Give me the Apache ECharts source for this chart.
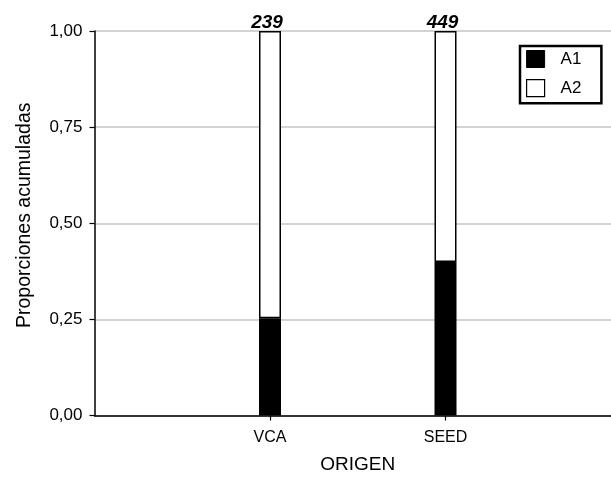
<!DOCTYPE html>
<html>
<head>
<meta charset="utf-8">
<script src="https://cdn.jsdelivr.net/npm/echarts@6/dist/echarts.min.js"></script>
<style>
html,body{margin:0;padding:0;background:#fff;}
#main{width:611px;height:477px;}
</style>
</head>
<body>
<div id="main"></div>
<script>
var categories = ['', 'VCA', 'SEED', ''];
var seriesA1 = [null, 0.253, 0.399, null];
var seriesA2 = [null, 0.747, 0.601, null];
var totals = [null, 239, 449, null];
var yTicks = [0, 0.25, 0.5, 0.75, 1];

var chart = echarts.init(document.getElementById('main'), null, {renderer: 'canvas'});
var font = 'Liberation Sans, Arial, sans-serif';
chart.setOption({
  animation: false,
  backgroundColor: '#ffffff',
  textStyle: {fontFamily: font},
  grid: {left: 94.5, right: -10, top: 31, bottom: 61.5, containLabel: false, outerBoundsMode: 'none'},
  legend: {
    orient: 'vertical',
    left: 520,
    top: 46,
    padding: [4, 20, 6, 6],
    borderColor: '#000',
    borderWidth: 2.5,
    itemGap: 11,
    itemWidth: 18,
    itemHeight: 17,
    textStyle: {fontFamily: font, fontSize: 17, color: '#000', padding: [0, 0, 0, 11]},
    data: [
      {name: 'A1', icon: 'rect', itemStyle: {color: '#000', borderColor: '#000', borderWidth: 1}},
      {name: 'A2', icon: 'rect', itemStyle: {color: '#fff', borderColor: '#000', borderWidth: 1.2}}
    ]
  },
  xAxis: {
    type: 'category',
    data: categories,
    boundaryGap: false,
    name: 'ORIGEN',
    nameLocation: 'middle',
    nameGap: 40,
    nameTextStyle: {fontFamily: font, fontSize: 19, color: '#000'},
    axisLine: {lineStyle: {color: '#000', width: 1.5}},
    axisTick: {length: 5, lineStyle: {color: '#000', width: 1.2}, interval: function (i, v) { return v !== ''; }},
    axisLabel: {fontFamily: font, fontSize: 16, color: '#000', margin: 14},
    splitLine: {show: false}
  },
  yAxis: {
    type: 'value',
    min: 0,
    max: 1,
    interval: 0.25,
    name: 'Proporciones acumuladas',
    nameLocation: 'middle',
    nameGap: 60,
    nameTextStyle: {fontFamily: font, fontSize: 19.5, color: '#000', padding: [0, 0, 0, 16]},
    axisLine: {show: true, lineStyle: {color: '#000', width: 1.5}},
    axisTick: {show: true, length: 5, lineStyle: {color: '#000', width: 1.2}},
    axisLabel: {fontFamily: font, fontSize: 17, color: '#000', margin: 12,
      formatter: function (v) { return v.toFixed(2).replace('.', ','); }},
    splitLine: {show: true, lineStyle: {color: '#c4c4c4', width: 1.5}}
  },
  series: [
    {
      name: 'A1', type: 'bar', stack: 's', barWidth: 22,
      data: seriesA1,
      itemStyle: {color: '#000', borderColor: '#000', borderWidth: 1.5}
    },
    {
      name: 'A2', type: 'bar', stack: 's', barWidth: 22,
      data: seriesA2,
      itemStyle: {color: '#fff', borderColor: '#000', borderWidth: 1.5},
      label: {
        show: true, position: 'top', distance: 1, offset: [-3, 2],
        fontFamily: font, fontSize: 19, fontWeight: 'bold', fontStyle: 'italic', color: '#000',
        formatter: function (p) { return totals[p.dataIndex]; }
      }
    }
  ]
});
</script>
</body>
</html>
